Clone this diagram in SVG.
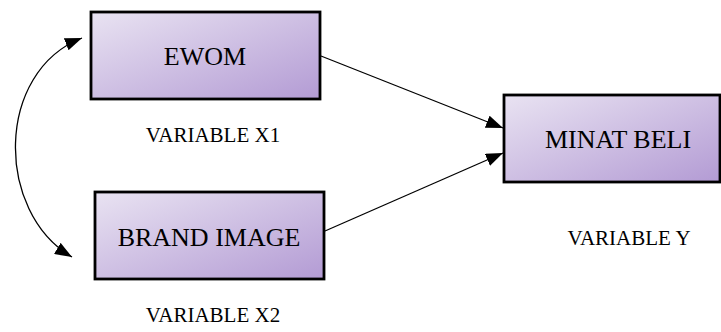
<svg xmlns="http://www.w3.org/2000/svg" width="721" height="332" viewBox="0 0 721 332">
  <defs>
    <linearGradient id="boxFill" x1="0" y1="0" x2="1" y2="1">
      <stop offset="0" stop-color="#e9e3f2"/>
      <stop offset="1" stop-color="#b39bd4"/>
    </linearGradient>
    <marker id="arrow" viewBox="0 0 17 13" refX="17" refY="6.5" markerWidth="17" markerHeight="13" markerUnits="userSpaceOnUse" orient="auto-start-reverse">
      <path d="M0 0 L17 6.5 L0 13 Z" fill="#000"/>
    </marker>
  </defs>
  <style>
    .box { fill: url(#boxFill); stroke: #000; stroke-width: 2.8; }
    .label { font-family: "Liberation Serif", "Times New Roman", serif; font-size: 26px; fill: #000; text-anchor: middle; }
    .caption { font-family: "Liberation Serif", "Times New Roman", serif; font-size: 21px; fill: #000; text-anchor: middle; }
    .edge { fill: none; stroke: #000; stroke-width: 1.3; marker-end: url(#arrow); }
  </style>
  <rect width="721" height="332" fill="#fff"/>

  <g id="connectors">
    <path class="edge" d="M321 56 L503 128"/>
    <path class="edge" d="M325 231 L503 153"/>
    <path class="edge" style="marker-start: url(#arrow)" d="M82 38 C-5 72, -5 212, 72 257"/>
  </g>

  <g id="ewom">
    <rect class="box" x="91" y="12" width="229" height="87"/>
    <text class="label" x="205" y="65">EWOM</text>
    <text class="caption" x="213" y="142">VARIABLE X1</text>
  </g>

  <g id="brand-image">
    <rect class="box" x="95" y="192" width="229" height="87"/>
    <text class="label" x="209" y="246">BRAND IMAGE</text>
    <text class="caption" x="213" y="322">VARIABLE X2</text>
  </g>

  <g id="minat-beli">
    <rect class="box" x="504" y="95" width="216" height="87"/>
    <text class="label" x="618" y="148">MINAT BELI</text>
    <text class="caption" x="629" y="245">VARIABLE Y</text>
  </g>
</svg>
